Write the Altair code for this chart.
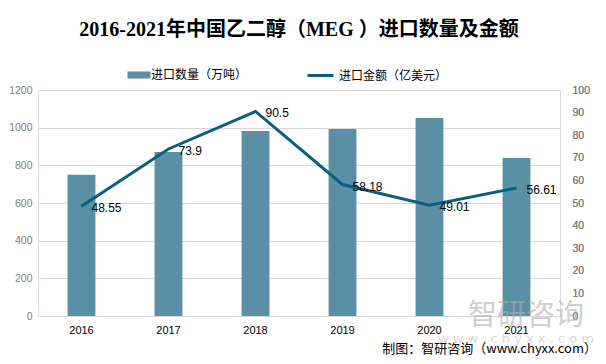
import altair as alt
import pandas as pd

years = ["2016", "2017", "2018", "2019", "2020", "2021"]
volume = [750, 871, 982, 993, 1051, 839]
value = [48.55, 73.9, 90.5, 58.18, 49.01, 56.61]
vol_name = "进口数量（万吨）"
val_name = "进口金额（亿美元）"

df = pd.DataFrame({"year": years, "volume": volume, "value": value,
                   "s1": vol_name, "s2": val_name})

FONT = "Noto Sans CJK SC"
NUM = "Liberation Sans"
x = alt.X("year:N", title=None,
          scale=alt.Scale(paddingInner=0.68, paddingOuter=0.34),
          axis=alt.Axis(labelAngle=0, ticks=False, domainColor="#d9d9d9",
                        labelColor="#000000", labelFontSize=11, labelPadding=8,
                        labelFont=NUM))

bars = alt.Chart(df).mark_bar(color="#5b8fa6").encode(
    x=x,
    y=alt.Y("volume:Q", title=None,
            scale=alt.Scale(domain=[0, 1200]),
            axis=alt.Axis(values=[0, 200, 400, 600, 800, 1000, 1200], format="d",
                          domain=False, ticks=False, gridColor="#d9d9d9",
                          labelColor="#808080", labelFontSize=10.5, labelPadding=6,
                          labelFont=NUM)),
    color=alt.Color("s1:N", scale=alt.Scale(domain=[vol_name], range=["#5b8fa6"]),
                    legend=alt.Legend(title=None, orient="none", legendX=93, legendY=-23,
                                      symbolType="M-1.44,-0.44H1.44V0.44H-1.44Z",
                                      symbolSize=256, labelFontSize=12, labelFont=FONT,
                                      labelColor="#000000", symbolStrokeWidth=0)),
)

line_base = alt.Chart(df).encode(
    x=x,
    y=alt.Y("value:Q", title=None,
            scale=alt.Scale(domain=[0, 100]),
            axis=alt.Axis(orient="right", values=list(range(0, 101, 10)), format="d",
                          domain=False, ticks=False, grid=False,
                          labelColor="#808080", labelFontSize=10.5, labelPadding=12,
                          labelAlign="left", labelFont=NUM)),
)
line = line_base.mark_line(strokeWidth=3).encode(
    stroke=alt.Stroke("s2:N", scale=alt.Scale(domain=[val_name], range=["#0b5f7d"]),
                      legend=alt.Legend(title=None, orient="none", legendX=268, legendY=-29,
                                        symbolType="stroke", symbolSize=676,
                                        symbolStrokeWidth=3, labelFontSize=12,
                                        labelFont=FONT, labelColor="#000000")),
)
labels = line_base.mark_text(align="left", baseline="middle", dx=10, dy=2,
                             fontSize=12, font=NUM, color="#000000").encode(
    text=alt.Text("value:Q", format=".4~f"))

foot = pd.DataFrame({"t": ["制图：智研咨询（www.chyxx.com）"]})
footer = alt.Chart(foot).mark_text(align="right", baseline="middle", fontSize=13,
                                   font=FONT, color="#000000").encode(
    x=alt.value(559), y=alt.value(259), text="t:N")

wm = pd.DataFrame({"t": ["智研咨询"]})
wm1 = alt.Chart(wm).mark_text(align="left", baseline="middle", fontSize=29,
                              font=FONT, color="#b0b0b0", opacity=0.6).encode(
    x=alt.value(430), y=alt.value(226), text="t:N")
wm2d = pd.DataFrame({"t": ["w w w . c h y x x . c o m"]})
wm2 = alt.Chart(wm2d).mark_text(align="left", baseline="middle", fontSize=13,
                                font="DejaVu Sans", color="#c0c0c0", opacity=0.6).encode(
    x=alt.value(400), y=alt.value(249), text="t:N")

chart = alt.layer(bars, line, labels, wm1, wm2, footer).resolve_scale(
    y="independent"
).properties(
    width=522, height=226,
    padding={"left": 30, "top": 82, "right": 38, "bottom": 40},
    autosize=alt.AutoSizeParams(type="none"),
    title=alt.Title("2016-2021年中国乙二醇（MEG ）进口数量及金额",
                    font="Liberation Serif, Noto Sans CJK SC", fontSize=20,
                    fontWeight="bold", color="#000000", anchor="middle", offset=21),
).configure_view(stroke=None).configure(background="white")

chart.save("out.html", embed_options={"renderer": "svg", "actions": False})
